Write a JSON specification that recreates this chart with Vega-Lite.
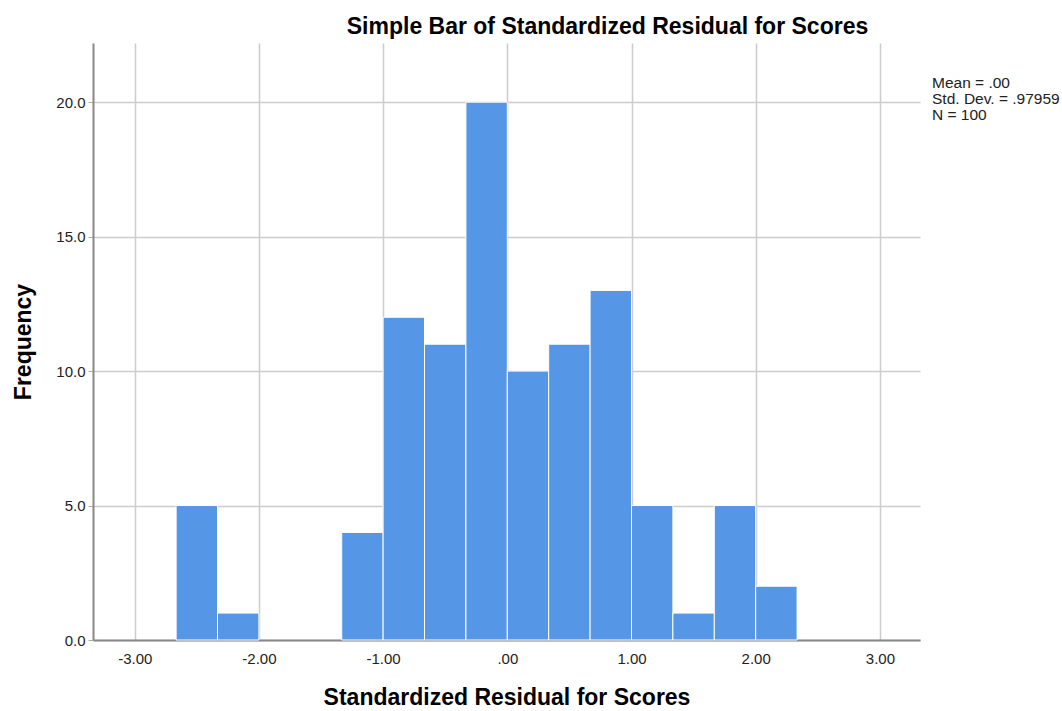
{
  "$schema": "https://vega.github.io/schema/vega-lite/v6.json",
  "autosize": {"type": "none"},
  "width": 827,
  "height": 597,
  "padding": {"left": 93, "top": 43, "right": 142, "bottom": 71},
  "background": "white",
  "config": {
    "view": {"stroke": null},
    "font": "Liberation Sans"
  },
  "title": {
    "text": "Simple Bar of Standardized Residual for Scores",
    "font": "Liberation Sans",
    "fontSize": 23,
    "fontWeight": "bold",
    "color": "#000000",
    "anchor": "middle",
    "dx": 101,
    "offset": 4
  },
  "layer": [
    {
      "data": {
        "values": [
          {"bin_start": -2.6667, "bin_end": -2.3333, "count": 5},
          {"bin_start": -2.3333, "bin_end": -2.0, "count": 1},
          {"bin_start": -1.3333, "bin_end": -1.0, "count": 4},
          {"bin_start": -1.0, "bin_end": -0.6667, "count": 12},
          {"bin_start": -0.6667, "bin_end": -0.3333, "count": 11},
          {"bin_start": -0.3333, "bin_end": 0.0, "count": 20},
          {"bin_start": 0.0, "bin_end": 0.3333, "count": 10},
          {"bin_start": 0.3333, "bin_end": 0.6667, "count": 11},
          {"bin_start": 0.6667, "bin_end": 1.0, "count": 13},
          {"bin_start": 1.0, "bin_end": 1.3333, "count": 5},
          {"bin_start": 1.3333, "bin_end": 1.6667, "count": 1},
          {"bin_start": 1.6667, "bin_end": 2.0, "count": 5},
          {"bin_start": 2.0, "bin_end": 2.3333, "count": 2}
        ]
      },
      "mark": {"type": "bar", "color": "#5596E6", "stroke": "#ffffff", "strokeWidth": 1},
      "encoding": {
        "x": {
          "field": "bin_start",
          "type": "quantitative",
          "scale": {"domain": [-3.336, 3.323], "nice": false, "zero": false},
          "axis": {
            "title": "Standardized Residual for Scores",
            "titleFont": "Liberation Sans",
            "titleFontSize": 23,
            "titleFontWeight": "bold",
            "titleColor": "#000000",
            "titlePadding": 20,
            "values": [-3, -2, -1, 0, 1, 2, 3],
            "labelExpr": "datum.value == 0 ? '.00' : (datum.value < 0 ? '-' + format(-datum.value, '.2f') : format(datum.value, '.2f'))",
            "labelFontSize": 15,
            "labelColor": "#222222",
            "labelPadding": 11,
            "ticks": false,
            "domainColor": "#888888",
            "domainWidth": 2,
            "grid": true,
            "gridColor": "#cccccc",
            "gridWidth": 1.5
          }
        },
        "x2": {"field": "bin_end"},
        "y": {
          "field": "count",
          "type": "quantitative",
          "scale": {"domain": [0, 22.2], "nice": false},
          "axis": {
            "title": "Frequency",
            "titleFont": "Liberation Sans",
            "titleFontSize": 23,
            "titleFontWeight": "bold",
            "titleColor": "#000000",
            "titlePadding": 20,
            "values": [0, 5, 10, 15, 20],
            "format": ".1f",
            "labelFontSize": 15,
            "labelColor": "#222222",
            "labelPadding": 3,
            "tickSize": 5,
            "tickColor": "#aaaaaa",
            "domainColor": "#888888",
            "domainWidth": 2,
            "grid": true,
            "gridColor": "#cccccc",
            "gridWidth": 1.5
          }
        },
        "y2": {"datum": 0}
      }
    },
    {
      "data": {"values": [{"note": "Mean = .00\nStd. Dev. = .97959\nN = 100"}]},
      "mark": {
        "type": "text",
        "align": "left",
        "baseline": "top",
        "dx": 12,
        "fontSize": 15.5,
        "lineHeight": 16,
        "lineBreak": "\n",
        "color": "#222222",
        "clip": false
      },
      "encoding": {
        "x": {"datum": 3.323, "type": "quantitative"},
        "y": {"datum": 20.96, "type": "quantitative"},
        "text": {"field": "note"}
      }
    }
  ]
}
